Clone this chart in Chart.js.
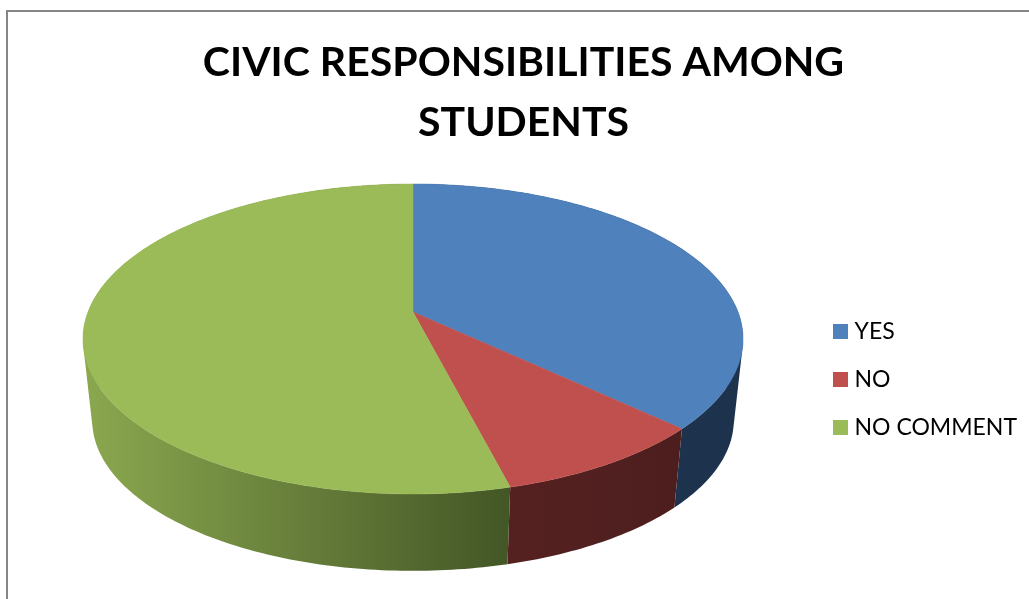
<!DOCTYPE html>
<html>
<head>
<meta charset="utf-8">
<script src="https://cdn.jsdelivr.net/npm/chart.js@4"></script>
<style>
  html, body { margin: 0; padding: 0; background: #fff; overflow: hidden; }
  #wrap { position: relative; width: 1029px; height: 599px; }
  #frame { position: absolute; left: 6px; top: 10px; width: 1040px; height: 610px; border: 2px solid #868686; box-sizing: border-box; }
  #myChart { position: absolute; left: 0; top: 0; }
</style>
</head>
<body>
<div id="wrap">
  <div id="frame"></div>
  <canvas id="myChart" width="1029" height="599"></canvas>
</div>
<script>
const titleLines = ['CIVIC RESPONSIBILITIES AMONG', 'STUDENTS']
const categories = ['YES', 'NO', 'NO COMMENT']
const values = [37, 9, 54]
const colors = ['#4f81bd', '#c0504d', '#9bbb59']
const sideColors = [['#1f3652', '#1d324c'], ['#552120', '#4d1e1e'], ['#8ba84f', '#435626']]

// the tilted disc: top face centre, projection and rim depth
const view = { cx: 413, cy: 312, rx: 325, ry: 150.3, tilt: 0.174, shrink: 0.972, depth: 82 }

function project(angle, lower) {
  const w = 1 - view.tilt * Math.sin(angle)
  let x = view.rx * Math.cos(angle) / w
  let y = view.ry * Math.sin(angle) / w
  if (lower) {
    x *= view.shrink
    y = y * view.shrink + view.depth
  }
  return [view.cx + x, view.cy + y]
}

function rimPoints(start, end, lower) {
  const pts = []
  const steps = Math.ceil((end - start) * 60)
  for (let i = 0; i <= steps; i++) {
    pts.push(project(start + (end - start) * i / steps, lower))
  }
  return pts
}

// 15px legend square, used as a point style so the text sits close to it
function swatch(color) {
  const c = document.createElement('canvas')
  c.width = 15
  c.height = 15
  const g = c.getContext('2d')
  g.fillStyle = color
  g.fillRect(0, 0, 15, 15)
  return c
}

class Arc3D extends Chart.ArcElement {
  static id = 'arc3d'

  draw(ctx) {
    const { startAngle, endAngle } = this.getProps(['startAngle', 'endAngle'])
    ctx.beginPath()
    ctx.moveTo(view.cx, view.cy)
    rimPoints(startAngle, endAngle, false).forEach(p => ctx.lineTo(p[0], p[1]))
    ctx.closePath()
    ctx.fillStyle = this.options.backgroundColor
    ctx.strokeStyle = this.options.backgroundColor
    ctx.lineWidth = 0.5
    ctx.fill()
    ctx.stroke()
  }

  drawSide(ctx, shades) {
    const { startAngle, endAngle } = this.getProps(['startAngle', 'endAngle'])
    const top = rimPoints(startAngle, endAngle, false)
    const bottom = rimPoints(startAngle, endAngle, true)
    const xs = top.map(p => p[0])
    const grad = ctx.createLinearGradient(Math.min(...xs), 0, Math.max(...xs), 0)
    grad.addColorStop(0, shades[0])
    grad.addColorStop(1, shades[1])
    ctx.fillStyle = grad
    // one path of same-wound quads, so the outline also covers the tangent edges without seams
    ctx.beginPath()
    for (let i = 0; i < top.length - 1; i++) {
      const quad = [top[i], top[i + 1], bottom[i + 1], bottom[i]]
      let area = 0
      quad.forEach((p, j) => {
        const q = quad[(j + 1) % 4]
        area += p[0] * q[1] - q[0] * p[1]
      })
      if (area < 0) quad.reverse()
      quad.forEach((p, j) => j ? ctx.lineTo(p[0], p[1]) : ctx.moveTo(p[0], p[1]))
      ctx.closePath()
    }
    ctx.fill()
  }
}

class Pie3D extends Chart.PieController {
  static id = 'pie3d'
  static defaults = { dataElementType: 'arc3d' }

  draw() {
    const ctx = this.chart.ctx
    const arcs = this.getMeta().data
    arcs.forEach((arc, i) => arc.drawSide(ctx, sideColors[i]))
    arcs.forEach(arc => arc.draw(ctx))
  }
}

Chart.register(Arc3D, Pie3D)

new Chart('myChart', {
  type: 'pie3d',
  data: {
    labels: categories,
    datasets: [{
      data: values,
      backgroundColor: colors,
      borderWidth: 0
    }]
  },
  options: {
    responsive: false,
    animation: false,
    layout: { padding: { left: 20, top: 33, bottom: 0, right: 2 } },
    plugins: {
      title: {
        display: true,
        text: titleLines,
        color: '#000',
        font: { family: 'Lato', size: 41, weight: 'bold', lineHeight: 1.46 },
        padding: { top: 0, bottom: 8 }
      },
      legend: {
        display: true,
        position: 'right',
        fullSize: false,
        labels: {
          usePointStyle: true,
          pointStyleWidth: 6,
          boxHeight: 15,
          padding: 25,
          color: '#000',
          font: { family: 'Lato', size: 23 },
          generateLabels(chart) {
            const items = Chart.PieController.overrides.plugins.legend.labels.generateLabels(chart)
            items.forEach((item, i) => { item.pointStyle = swatch(colors[i]) })
            return items
          }
        }
      },
      tooltip: { enabled: false }
    }
  }
})
</script>
</body>
</html>
